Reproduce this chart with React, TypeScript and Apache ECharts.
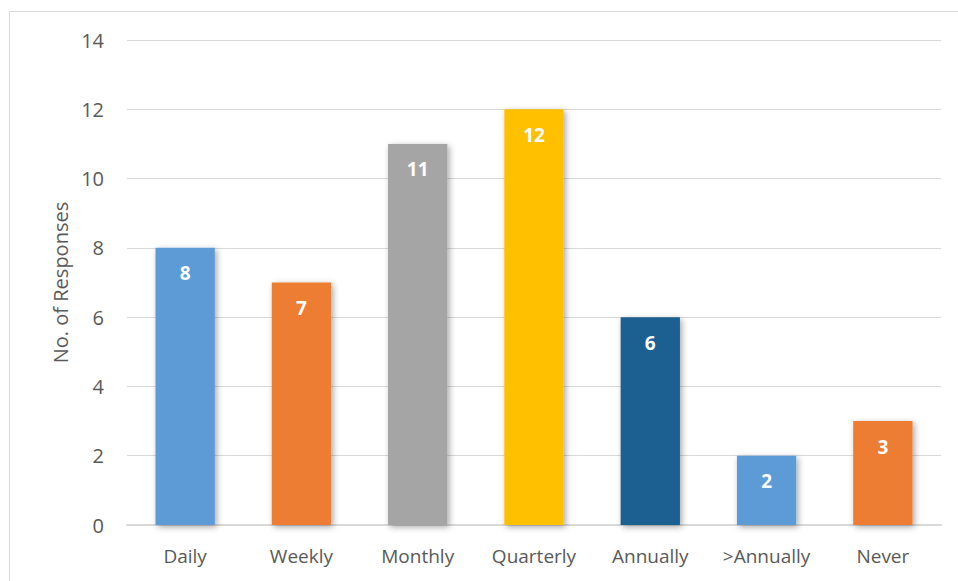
import React, { useEffect, useRef } from "react";
import * as echarts from "echarts";

const categories = ["Daily", "Weekly", "Monthly", "Quarterly", "Annually", ">Annually", "Never"];
const responses = [8, 7, 11, 12, 6, 2, 3];
const barColors = ["#5B9BD5", "#ED7D31", "#A5A5A5", "#FFC000", "#1F5F91", "#5B9BD5", "#ED7D31"];
const yTicks = { min: 0, max: 14, interval: 2 };
const yAxisTitle = "No. of Responses";

export default function App() {
  const ref = useRef<HTMLDivElement>(null);
  useEffect(() => {
    if (!ref.current) return;
    const chart = echarts.init(ref.current, undefined, { renderer: "svg" });
    const font = "'Open Sans', 'Noto Sans', sans-serif";
    chart.setOption({
      animation: false,
      backgroundColor: "#ffffff",
      graphic: [
        {
          type: "rect",
          shape: { x: 9.5, y: 11.5, width: 1000, height: 1000 },
          style: { fill: "none", stroke: "#d9d9d9", lineWidth: 1 },
          silent: true,
        },
      ],
      grid: { left: 127, right: 17, top: 40, bottom: 56 },
      xAxis: {
        type: "category",
        data: categories,
        axisLine: { show: true, lineStyle: { color: "#d9d9d9", width: 2 } },
        axisTick: { show: false },
        axisLabel: {
          color: "#595959",
          fontSize: 19,
          fontFamily: font,
          margin: 21,
          interval: 0,
          hideOverlap: false,
        },
      },
      yAxis: {
        type: "value",
        min: yTicks.min,
        max: yTicks.max,
        interval: yTicks.interval,
        name: yAxisTitle,
        nameLocation: "middle",
        nameGap: 55,
        nameTextStyle: { color: "#595959", fontSize: 20, fontFamily: font },
        axisLine: { show: false },
        axisTick: { show: false },
        splitLine: { lineStyle: { color: "#d9d9d9", width: 1 } },
        axisLabel: { color: "#595959", fontSize: 20, fontFamily: font, margin: 23 },
      },
      series: [
        {
          type: "bar",
          barWidth: "51%",
          data: responses.map((v, i) => ({
            value: v,
            itemStyle: {
              color: barColors[i],
              shadowBlur: 6,
              shadowOffsetX: 2,
              shadowOffsetY: 2,
              shadowColor: "rgba(0,0,0,0.35)",
            },
          })),
          label: {
            show: true,
            position: "insideTop",
            distance: 16,
            color: "#ffffff",
            fontWeight: "bold",
            fontSize: 19,
            fontFamily: font,
          },
        },
      ],
    });
    return () => chart.dispose();
  }, []);
  return (
    <div
      ref={ref}
      style={{ position: "fixed", left: 0, top: 0, width: 958, height: 581 }}
    />
  );
}
